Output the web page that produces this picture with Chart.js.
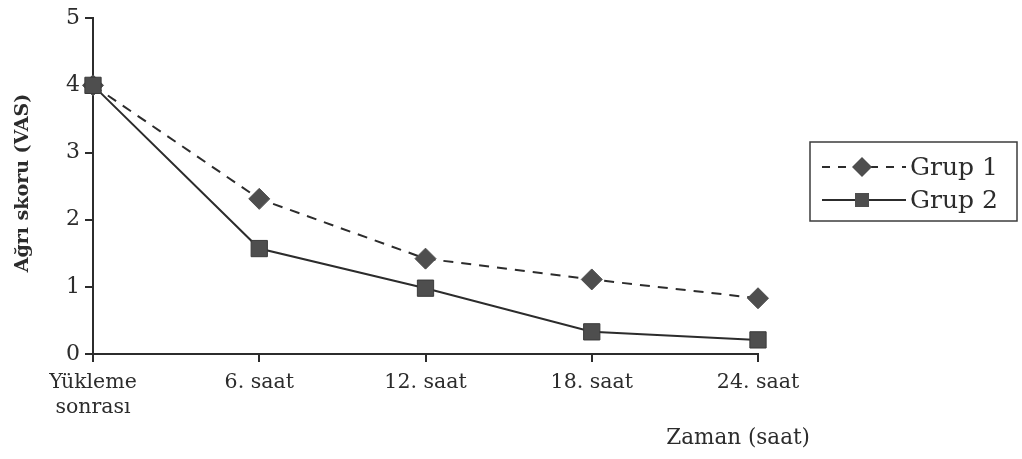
<!DOCTYPE html>
<html>
<head>
<meta charset="utf-8">
<script src="https://cdn.jsdelivr.net/npm/chart.js@4/dist/chart.umd.min.js"></script>
<style>
  html, body { margin: 0; padding: 0; background: #fff; }
  #wrap { width: 1022px; height: 459px; position: relative; }
</style>
</head>
<body>
<div id="wrap"><canvas id="c" width="1022" height="459"></canvas></div>
<script>
// Time points after loading and pain scores (VAS) per group
const categories = [["Yükleme", "sonrası"], "6. saat", "12. saat", "18. saat", "24. saat"];
const grup1 = [4.0, 2.31, 1.42, 1.11, 0.83];
const grup2 = [4.0, 1.57, 0.98, 0.33, 0.21];
const yTicks = [0, 1, 2, 3, 4, 5];
const seriesNames = ["Grup 1", "Grup 2"];
const yTitle = "Ağrı skoru (VAS)";
const xTitle = "Zaman (saat)";

const INK = "#2c2c2c";
const MARK = "#4e4e4e";
const FONT = "'DejaVu Serif', 'Liberation Serif', serif";

// Axis titles and boxed legend drawn on top of the chart
const decorations = {
  id: "decorations",
  afterDraw(chart) {
    const ctx = chart.ctx;
    ctx.save();
    ctx.fillStyle = INK;
    // y-axis title
    ctx.font = "bold 19px " + FONT;
    ctx.textAlign = "center";
    ctx.textBaseline = "middle";
    ctx.translate(23, 183);
    ctx.rotate(-Math.PI / 2);
    ctx.fillText(yTitle, 0, 0);
    ctx.setTransform(1, 0, 0, 1, 0, 0);
    // x-axis title
    ctx.font = "21.5px " + FONT;
    ctx.textAlign = "right";
    ctx.textBaseline = "alphabetic";
    ctx.fillText(xTitle, 810, 444);

    // legend box
    const bx = 810, by = 142, bw = 207, bh = 79;
    ctx.strokeStyle = "#3c3c3c";
    ctx.lineWidth = 1.5;
    ctx.strokeRect(bx, by, bw, bh);
    const rowsY = [167, 200];
    chart.data.datasets.forEach((ds, i) => {
      const y = rowsY[i];
      ctx.save();
      ctx.strokeStyle = ds.borderColor;
      ctx.lineWidth = 2;
      ctx.setLineDash(ds.borderDash && ds.borderDash.length ? [8, 8] : []);
      ctx.beginPath();
      ctx.moveTo(822, y);
      ctx.lineTo(906, y);
      ctx.stroke();
      ctx.setLineDash([]);
      ctx.fillStyle = ds.pointBackgroundColor;
      const cx = 862;
      if (ds.pointStyle === "rectRot") {
        const r = 10;
        ctx.beginPath();
        ctx.moveTo(cx, y - r);
        ctx.lineTo(cx + r, y);
        ctx.lineTo(cx, y + r);
        ctx.lineTo(cx - r, y);
        ctx.closePath();
        ctx.fill();
      } else {
        ctx.fillRect(cx - 7, y - 7, 14, 14);
      }
      ctx.restore();
      ctx.fillStyle = INK;
      ctx.font = "25px " + FONT;
      ctx.textAlign = "left";
      ctx.textBaseline = "middle";
      ctx.fillText(ds.label, 910, y + 1);
    });
    ctx.restore();
  }
};

new Chart(document.getElementById("c"), {
  type: "line",
  data: {
    labels: categories,
    datasets: [
      {
        label: seriesNames[0],
        data: grup1,
        borderColor: INK,
        borderWidth: 2,
        borderDash: [10, 8],
        pointStyle: "rectRot",
        pointRadius: 10.5,
        pointBackgroundColor: MARK,
        pointBorderColor: MARK,
        pointBorderWidth: 1,
        tension: 0,
        fill: false,
        order: 1
      },
      {
        label: seriesNames[1],
        data: grup2,
        borderColor: INK,
        borderWidth: 2,
        pointStyle: "rect",
        pointRadius: 11.5,
        pointBackgroundColor: MARK,
        pointBorderColor: "#3a3a3a",
        pointBorderWidth: 1,
        tension: 0,
        fill: false,
        order: 0
      }
    ]
  },
  options: {
    responsive: false,
    animation: false,
    events: [],
    layout: { padding: { top: 16, right: 264, left: 0, bottom: 0 } },
    plugins: {
      legend: { display: false },
      tooltip: { enabled: false },
      title: { display: false }
    },
    scales: {
      x: {
        type: "category",
        offset: false,
        afterFit(scale) { scale.height = 105; },
        border: { display: true, color: INK, width: 2 },
        grid: { display: true, drawOnChartArea: false, drawTicks: true, tickLength: 8, color: INK, lineWidth: 2 },
        ticks: {
          color: INK,
          font: { family: FONT, size: 20.5, lineHeight: 1.22 },
          padding: 8,
          maxRotation: 0,
          autoSkip: false
        }
      },
      y: {
        min: 0,
        max: 5,
        afterFit(scale) { scale.width = 93; },
        afterBuildTicks(scale) { scale.ticks = yTicks.map(v => ({ value: v })); },
        border: { display: true, color: INK, width: 2 },
        grid: { display: true, drawOnChartArea: false, drawTicks: true, tickLength: 8, color: INK, lineWidth: 2 },
        ticks: {
          color: INK,
          font: { family: FONT, size: 22 },
          padding: 5
        }
      }
    }
  },
  plugins: [decorations]
});
</script>
</body>
</html>
